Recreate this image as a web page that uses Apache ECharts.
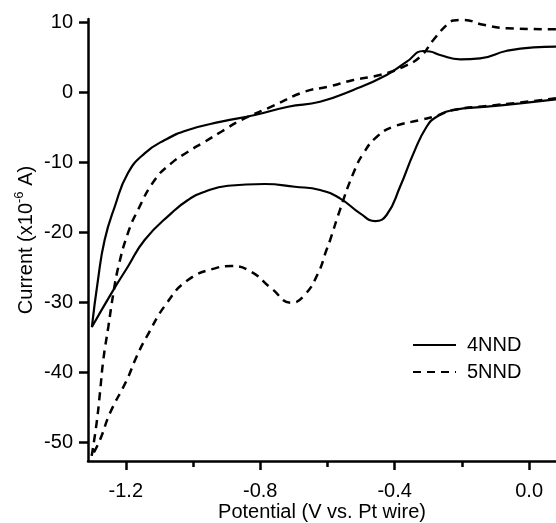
<!DOCTYPE html>
<html>
<head>
<meta charset="utf-8">
<script src="https://cdn.jsdelivr.net/npm/echarts@6/dist/echarts.min.js"></script>
<style>
html, body { margin: 0; padding: 0; background: #fff; }
#chart { width: 556px; height: 523px; }
</style>
</head>
<body>
<div id="chart"></div>
<script>
// 4NND: lower branch (right to left), then upper branch back to the right
var pot4 = [0.080, -0.027, -0.126, -0.225, -0.275, -0.305, -0.344, -0.384, -0.424, -0.458, -0.503, -0.563, -0.622, -0.697, -0.787, -0.896, -0.965, -1.015, -1.065, -1.144, -1.194, -1.243, -1.301,
	-1.283, -1.263, -1.233, -1.194, -1.144, -1.084, -1.015, -0.916, -0.816, -0.717, -0.622, -0.523, -0.424, -0.364, -0.315, -0.295, -0.265, -0.205, -0.146, -0.066, 0.013, 0.080];
var cur4 = [-1.04, -1.61, -2.10, -2.57, -3.53, -4.96, -8.76, -13.53, -17.57, -18.43, -17.33, -15.19, -14.00, -13.53, -13.14, -13.39, -14.24, -15.43, -17.33, -21.14, -24.96, -28.76, -33.57,
	-26.9, -21.14, -16.39, -11.61, -8.76, -6.86, -5.43, -4.24, -3.29, -2.10, -1.39, 0.29, 2.43, 4.33, 5.86, 5.79, 5.29, 4.67, 4.81, 5.90, 6.39, 6.47];

// 5NND
var pot5 = [0.080, -0.027, -0.126, -0.225, -0.275, -0.324, -0.404, -0.453, -0.493, -0.523, -0.563, -0.592, -0.603, -0.628, -0.668, -0.707, -0.767, -0.827, -0.886, -0.935, -1.015, -1.078, -1.138, -1.168, -1.197, -1.247, -1.277, -1.302,
	-1.287, -1.277, -1.267, -1.252, -1.237, -1.222, -1.194, -1.164, -1.114, -1.065, -1.015, -0.965, -0.916, -0.856, -0.767, -0.668, -0.598, -0.523, -0.444, -0.374, -0.324, -0.285, -0.245, -0.225, -0.196, -0.136, -0.066, 0.080];
var cur5 = [-0.9, -1.5, -2.0, -2.57, -3.4, -4.0, -4.96, -6.39, -8.76, -11.61, -16.86, -21.14, -22.57, -25.9, -29.0, -30.1, -28.04, -25.67, -24.86, -25.19, -26.86, -30.14, -34.96, -37.81, -41.14, -45.86, -49.71, -52.1,
	-47.33, -43.0, -38.29, -33.53, -28.76, -24.96, -20.19, -16.86, -12.57, -10.19, -8.53, -7.10, -5.67, -4.0, -2.10, 0.04, 0.76, 1.71, 2.43, 3.61, 5.04, 7.43, 9.6, 10.2, 10.3, 9.6, 9.1, 8.95];

var xMajor = [-1.2, -0.8, -0.4, 0.0];
var xMinor = [-1.0, -0.6, -0.2];
var yTicks = [-50, -40, -30, -20, -10, 0, 10];

function pairs(xs, ys) {
	var out = [];
	for (var i = 0; i < xs.length; i++) {
		out.push([xs[i], ys[i]]);
	}
	return out;
}

var font = 'Liberation Sans, Arial, sans-serif';
var xMin = -1.3125, xMax = 0.08;

var chart = echarts.init(document.getElementById('chart'));
chart.setOption({
	animation : false,
	backgroundColor : '#fff',
	grid : {
		left : 88,
		right : 0,
		top : 19,
		bottom : 62,
		// 固定绘图区，不随标签收缩
		outerBoundsMode : 'none',
		containLabel : false
	},
	legend : {
		orient : 'vertical',
		left : 412,
		top : 335,
		padding : 0,
		itemWidth : 43,
		itemHeight : 14,
		itemGap : 7,
		// 隐藏图例中的圆点
		itemStyle : {
			opacity : 0
		},
		textStyle : {
			fontFamily : font,
			fontSize : 20,
			color : '#000',
			padding : [ 0, 0, 0, 6 ]
		},
		data : [ '4NND', '5NND' ]
	},
	xAxis : [ {
		type : 'value',
		min : xMin,
		max : xMax,
		name : 'Potential (V vs. Pt wire)',
		nameLocation : 'middle',
		nameGap : 41,
		nameMoveOverlap : false,
		nameTextStyle : {
			fontFamily : font,
			fontSize : 20,
			color : '#000'
		},
		axisLine : {
			onZero : false,
			lineStyle : {
				color : '#000',
				width : 2.5
			}
		},
		axisTick : {
			customValues : xMajor,
			length : 9,
			lineStyle : {
				width : 2.5,
				color : '#000'
			}
		},
		axisLabel : {
			customValues : xMajor,
			margin : 20,
			fontFamily : font,
			fontSize : 20,
			color : '#000',
			formatter : function(v) {
				return v.toFixed(1);
			}
		},
		splitLine : {
			show : false
		}
	}, {
		// 次刻度
		type : 'value',
		min : xMin,
		max : xMax,
		position : 'bottom',
		axisLine : {
			show : false,
			onZero : false
		},
		axisTick : {
			customValues : xMinor,
			length : 6,
			lineStyle : {
				width : 2.5,
				color : '#000'
			}
		},
		axisLabel : {
			show : false
		},
		splitLine : {
			show : false
		}
	} ],
	yAxis : {
		type : 'value',
		min : -52.71,
		max : 10.43,
		name : '{a|Current (x10}{s|-6}{a| A)}',
		nameLocation : 'middle',
		nameGap : 48,
		nameMoveOverlap : false,
		nameTextStyle : {
			fontFamily : font,
			fontSize : 20,
			color : '#000',
			rich : {
				a : {
					fontFamily : font,
					fontSize : 20,
					color : '#000'
				},
				s : {
					fontFamily : font,
					fontSize : 13,
					color : '#000',
					padding : [ 0, 0, 14, 0 ]
				}
			}
		},
		axisLine : {
			onZero : false,
			lineStyle : {
				color : '#000',
				width : 2.5
			}
		},
		axisTick : {
			customValues : yTicks,
			length : 9,
			lineStyle : {
				width : 2.5,
				color : '#000'
			}
		},
		axisLabel : {
			customValues : yTicks,
			margin : 15,
			fontFamily : font,
			fontSize : 20,
			color : '#000'
		},
		splitLine : {
			show : false
		}
	},
	series : [ {
		name : '4NND',
		type : 'line',
		data : pairs(pot4, cur4),
		symbol : 'none',
		smooth : 0.5,
		lineStyle : {
			color : '#000',
			width : 2.2
		},
		itemStyle : {
			color : '#000'
		}
	}, {
		name : '5NND',
		type : 'line',
		data : pairs(pot5, cur5),
		symbol : 'none',
		smooth : 0.5,
		lineStyle : {
			color : '#000',
			width : 2.5,
			type : [ 8, 6 ]
		},
		itemStyle : {
			color : '#000'
		}
	} ]
});
</script>
</body>
</html>
